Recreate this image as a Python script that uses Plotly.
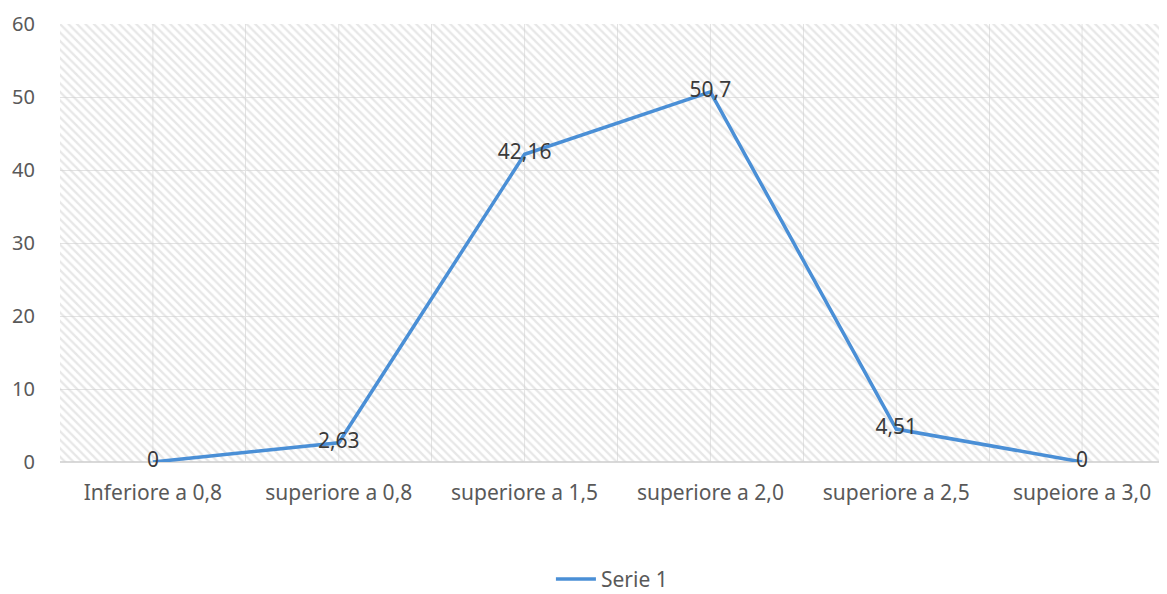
import plotly.graph_objects as go

categories = ["Inferiore a 0,8", "superiore a 0,8", "superiore a 1,5",
              "superiore a 2,0", "superiore a 2,5", "supeiore a 3,0"]
values = [0, 2.63, 42.16, 50.7, 4.51, 0]
series_name = "Serie 1"
y_max = 60

fig = go.Figure()

# hatched plot-area background
fig.add_trace(go.Bar(
    x=categories, y=[y_max] * len(categories), width=1,
    marker=dict(color="rgba(0,0,0,0)", line=dict(width=0),
                pattern=dict(shape="\\", fgcolor="#cfcfcf", bgcolor="rgba(0,0,0,0)",
                             size=6, solidity=0.38)),
    showlegend=False, hoverinfo="skip",
))

fig.add_trace(go.Scatter(
    x=categories, y=values, name=series_name, mode="lines+text",
    line=dict(color="#4a8fd6", width=3.5),
    texttemplate="%{y}", textposition="middle center",
    textfont=dict(size=21, color="#3a3a3a"),
    cliponaxis=False,
))

# gridlines at category centres
for c in categories:
    fig.add_shape(type="line", xref="x", yref="paper", x0=c, x1=c, y0=0, y1=1,
                  line=dict(color="#e3e3e3", width=1), layer="below")

fig.update_layout(
    width=1167, height=594,
    margin=dict(l=52, r=0, t=16, b=140, autoexpand=False),
    paper_bgcolor="white", plot_bgcolor="white",
    separators=",.",
    bargap=0,
    font=dict(family="Noto Sans", size=20, color="#595959"),
    showlegend=True,
    legend=dict(orientation="h", x=0.495, xanchor="center", y=-0.268, yanchor="middle",
                font=dict(size=21, color="#595959"), itemwidth=40),
    xaxis=dict(range=[-0.5, len(categories) - 0.5], tickson="boundaries",
               showgrid=True, gridcolor="#e3e3e3", ticks="", showline=False,
               zeroline=False, automargin=False, ticklabelstandoff=16,
               tickfont=dict(size=21, color="#595959")),
    yaxis=dict(range=[0, y_max], dtick=10, showgrid=True, gridcolor="#e3e3e3",
               zeroline=True, zerolinecolor="#d9d9d9", ticks="", ticklabelstandoff=24,
               automargin=False, tickfont=dict(size=20, color="#595959")),
)

fig.write_html("out.html")
